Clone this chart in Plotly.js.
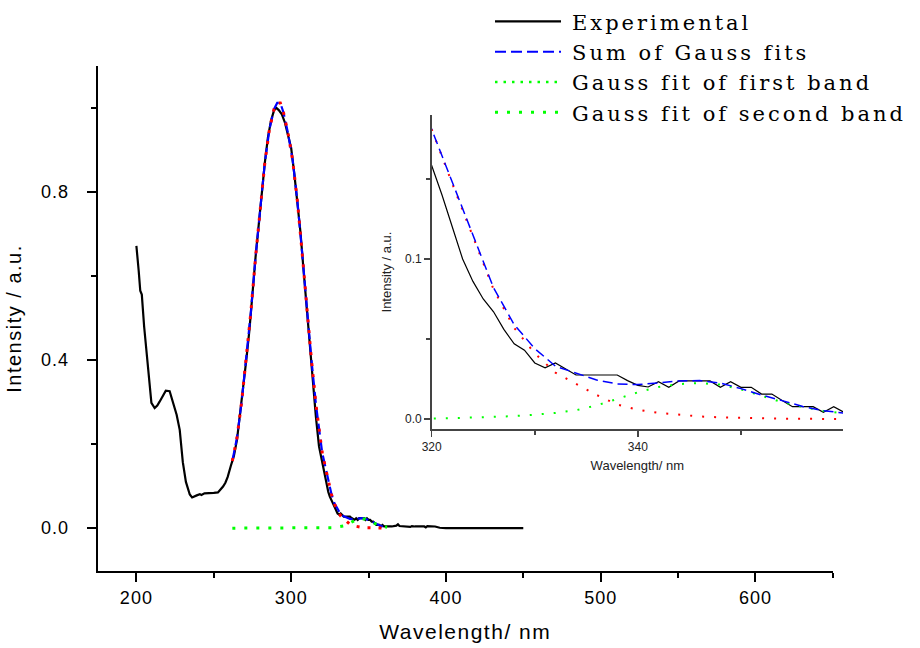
<!DOCTYPE html>
<html>
<head>
<meta charset="utf-8">
<script src="https://cdn.plot.ly/plotly-3.0.1.min.js"></script>
<style>
  html, body { margin: 0; padding: 0; background: #fff; }
  #chart { width: 920px; height: 648px; }
  .legendtext { letter-spacing: 3px; }
  .xtitle, .ytitle { letter-spacing: 1.5px; }
  .xtick text, .ytick text { letter-spacing: 1px; }
  .x2tick text, .y2tick text, .x2title, .y2title { letter-spacing: 0px; }
</style>
</head>
<body>
<div id="chart"></div>
<script>
// Experimental spectrum (nm, intensity a.u.)
const expWl = [200, 200.5, 201.5, 202.5, 203.5, 205, 207, 208.5, 209.7, 211.8, 213.5, 215, 217, 219, 221.5, 223.5, 226, 228, 230, 232, 234.5, 236, 237.7, 239, 241, 242, 244, 246, 250, 252.7, 254.5, 256, 257.5, 259, 261, 263, 265, 267, 269, 271, 273, 275, 277, 279, 281, 283, 285, 287, 289, 290.5, 292, 294, 296, 298, 300, 302, 304, 306, 308, 310, 312, 314, 316, 318, 319, 320, 321, 322, 323, 324, 325, 326, 327, 328, 329, 330, 331, 332, 333, 334, 335, 336, 337, 338, 339, 340, 341, 342, 343, 344, 345, 346, 347, 348, 349, 350, 351, 352, 353, 354, 355, 356, 357, 358, 359, 360, 365, 368, 369, 370, 375, 377, 378, 380, 386, 387, 388, 393, 396, 400, 410, 420, 430, 440, 450];
const expInt = [0.672, 0.645, 0.612, 0.565, 0.556, 0.48, 0.40, 0.33, 0.298, 0.286, 0.292, 0.301, 0.316, 0.327, 0.326, 0.302, 0.27, 0.234, 0.157, 0.11, 0.08, 0.073, 0.075, 0.078, 0.081, 0.079, 0.083, 0.083, 0.084, 0.085, 0.092, 0.099, 0.108, 0.122, 0.148, 0.172, 0.21, 0.27, 0.335, 0.40, 0.47, 0.565, 0.645, 0.72, 0.80, 0.87, 0.93, 0.97, 0.995, 1.0, 0.995, 0.985, 0.965, 0.935, 0.905, 0.845, 0.78, 0.705, 0.615, 0.525, 0.445, 0.36, 0.265, 0.195, 0.177, 0.159, 0.140, 0.120, 0.100, 0.086, 0.075, 0.067, 0.056, 0.047, 0.043, 0.035, 0.032, 0.035, 0.031, 0.0275, 0.0275, 0.0275, 0.0275, 0.0275, 0.024, 0.021, 0.020, 0.0233, 0.0198, 0.0238, 0.0238, 0.0238, 0.0238, 0.0198, 0.0233, 0.0198, 0.0198, 0.0156, 0.0156, 0.0115, 0.0077, 0.0077, 0.0077, 0.0042, 0.0077, 0.0042, 0.004, 0.006, 0.009, 0.005, 0.004, 0.003, 0.005, 0.004, 0.004, 0.002, 0.005, 0.004, 0.001, 0.0, 0.0, 0.0, 0.0, 0.0, 0.0];

// Gaussian fits
const fitWl = [262, 265, 268, 271, 274, 277, 280, 283, 286, 289, 291, 293, 295, 298, 301, 304, 307, 310, 313, 316, 318, 320, 322, 324, 326, 328, 330, 332, 334, 336, 338, 340, 342, 344, 346, 348, 350, 352, 354, 356, 358, 360, 362];
const band1 = [0.16, 0.215, 0.30, 0.40, 0.515, 0.645, 0.76, 0.87, 0.95, 0.998, 1.012, 1.012, 0.99, 0.94, 0.875, 0.78, 0.66, 0.53, 0.405, 0.295, 0.232, 0.181, 0.147, 0.114, 0.081, 0.057, 0.041, 0.029, 0.022, 0.015, 0.009, 0.0058, 0.0038, 0.0025, 0.0016, 0.001, 0.0006, 0.0004, 0.0002, 0.0001, 0.0001, 0, 0];
const band2 = [0, 0, 0, 0, 0, 0, 0, 0, 0, 0, 0, 0, 0, 0, 0, 0, 0, 0, 0, 0, 0.0002, 0.0003, 0.0005, 0.0008, 0.0012, 0.0018, 0.0027, 0.0038, 0.0055, 0.0085, 0.0125, 0.0167, 0.0200, 0.0218, 0.0225, 0.0215, 0.0185, 0.0145, 0.0105, 0.0075, 0.005, 0.0035, 0.0022];
const gaussSum = [0.16, 0.215, 0.30, 0.40, 0.515, 0.645, 0.76, 0.87, 0.95, 0.998, 1.012, 1.012, 0.99, 0.94, 0.875, 0.78, 0.66, 0.53, 0.405, 0.295, 0.232, 0.181, 0.148, 0.115, 0.082, 0.059, 0.044, 0.033, 0.0285, 0.0244, 0.0219, 0.0215, 0.0225, 0.0238, 0.024, 0.0225, 0.019, 0.015, 0.0115, 0.0078, 0.0052, 0.0035, 0.0022];

const legendNames = ['Experimental', 'Sum of Gauss fits', 'Gauss fit of first band', 'Gauss fit of second band'];

const RED = '#ff0000', GREEN = '#00ff00', BLUE = '#0000ff';

const traces = [
  // main plot
  {x: expWl, y: expInt, xaxis: 'x', yaxis: 'y', mode: 'lines', name: legendNames[0],
   line: {color: '#000', width: 2.2}},
  {x: fitWl, y: gaussSum, xaxis: 'x', yaxis: 'y', mode: 'lines', name: legendNames[1],
   line: {color: BLUE, width: 2.2, dash: '11px,5px'}},
  {x: fitWl, y: band1, xaxis: 'x', yaxis: 'y', mode: 'lines', name: legendNames[2], showlegend: false,
   line: {color: RED, width: 3, dash: '3px,8px'}},
  // legend entry for first band (drawn green in the reference legend)
  {x: [null], y: [null], xaxis: 'x', yaxis: 'y', mode: 'lines', name: legendNames[2],
   line: {color: GREEN, width: 2.5, dash: '2.5px,6px'}},
  {x: fitWl, y: band2, xaxis: 'x', yaxis: 'y', mode: 'lines', name: legendNames[3],
   line: {color: GREEN, width: 3, dash: '3px,9px'}},
  // inset
  {x: expWl, y: expInt, xaxis: 'x2', yaxis: 'y2', mode: 'lines', showlegend: false,
   line: {color: '#000', width: 1.2}},
  {x: fitWl, y: band1, xaxis: 'x2', yaxis: 'y2', mode: 'lines', showlegend: false,
   line: {color: RED, width: 2, dash: '2px,10px'}},
  {x: fitWl, y: band2, xaxis: 'x2', yaxis: 'y2', mode: 'lines', showlegend: false,
   line: {color: GREEN, width: 2, dash: '2px,10px'}},
  {x: fitWl, y: gaussSum, xaxis: 'x2', yaxis: 'y2', mode: 'lines', showlegend: false,
   line: {color: BLUE, width: 1.5, dash: '10px,5px'}}
];

const W = 920, H = 648;
const mainFont = 'Liberation Sans, Arial, sans-serif';

const layout = {
  width: W, height: H,
  margin: {l: 0, r: 0, t: 0, b: 0},
  paper_bgcolor: '#fff', plot_bgcolor: 'rgba(0,0,0,0)',
  showlegend: true,
  legend: {
    x: 490 / W, y: 0.998, xanchor: 'left', yanchor: 'top',
    bgcolor: 'rgba(0,0,0,0)', borderwidth: 0,
    font: {family: 'DejaVu Serif, serif', size: 21, color: '#000'},
    itemwidth: 72, tracegroupgap: 0
  },
  xaxis: {
    domain: [97.7 / W, 832.8 / W], range: [175, 650], anchor: 'y',
    showline: true, linecolor: '#000', linewidth: 2, mirror: false,
    showgrid: false, zeroline: false,
    ticks: 'outside', ticklen: 9, tickwidth: 2, tickcolor: '#000',
    tick0: 0, dtick: 100,
    minor: {ticks: 'outside', dtick: 50, ticklen: 5, tickwidth: 2, tickcolor: '#000', showgrid: false},
    tickfont: {family: mainFont, size: 18, color: '#000'},
    title: {text: 'Wavelength/ nm', font: {family: mainFont, size: 21, color: '#000'}, standoff: 18}
  },
  yaxis: {
    domain: [(H - 571) / H, (H - 66) / H], range: [-0.102, 1.1], anchor: 'x',
    showline: true, linecolor: '#000', linewidth: 2, mirror: false,
    showgrid: false, zeroline: false,
    ticks: 'outside', ticklen: 9, tickwidth: 2, tickcolor: '#000',
    tick0: 0, dtick: 0.4, tickformat: '.1f', ticklabelstandoff: 14,
    minor: {ticks: 'outside', dtick: 0.2, ticklen: 5, tickwidth: 2, tickcolor: '#000', showgrid: false},
    tickfont: {family: mainFont, size: 18, color: '#000'},
    title: {text: 'Intensity / a.u.', font: {family: mainFont, size: 20, color: '#000'}, standoff: 14}
  },
  xaxis2: {
    domain: [431.7 / W, 843 / W], range: [320, 359.9], anchor: 'y2',
    showline: true, linecolor: '#444', linewidth: 1.5, mirror: false,
    showgrid: false, zeroline: false,
    ticks: 'outside', ticklen: 6, tickwidth: 1.5, tickcolor: '#444',
    tick0: 0, dtick: 20,
    minor: {ticks: 'outside', dtick: 10, ticklen: 4, tickwidth: 1.5, tickcolor: '#444', showgrid: false},
    tickfont: {family: mainFont, size: 12, color: '#222'},
    title: {text: 'Wavelength/ nm', font: {family: mainFont, size: 13, color: '#222'}, standoff: 8}
  },
  yaxis2: {
    domain: [(H - 429) / H, (H - 115) / H], range: [-0.00625, 0.19], anchor: 'x2',
    showline: true, linecolor: '#444', linewidth: 1.5, mirror: false,
    showgrid: false, zeroline: false,
    ticks: 'outside', ticklen: 6, tickwidth: 1.5, tickcolor: '#444',
    tick0: 0, dtick: 0.1, tickformat: '.1f',
    minor: {ticks: 'outside', dtick: 0.05, ticklen: 4, tickwidth: 1.5, tickcolor: '#444', showgrid: false},
    tickfont: {family: mainFont, size: 12, color: '#222'},
    title: {text: 'Intensity / a.u.', font: {family: mainFont, size: 13, color: '#222'}, standoff: 10}
  }
};

Plotly.newPlot('chart', traces, layout, {staticPlot: true, displayModeBar: false}).then(function (gd) {
  // lengthen legend sample lines to match the reference
  gd.querySelectorAll('.legend .legendlines path').forEach(function (p) {
    p.setAttribute('d', 'M5,0h66');
  });
});
</script>
</body>
</html>
